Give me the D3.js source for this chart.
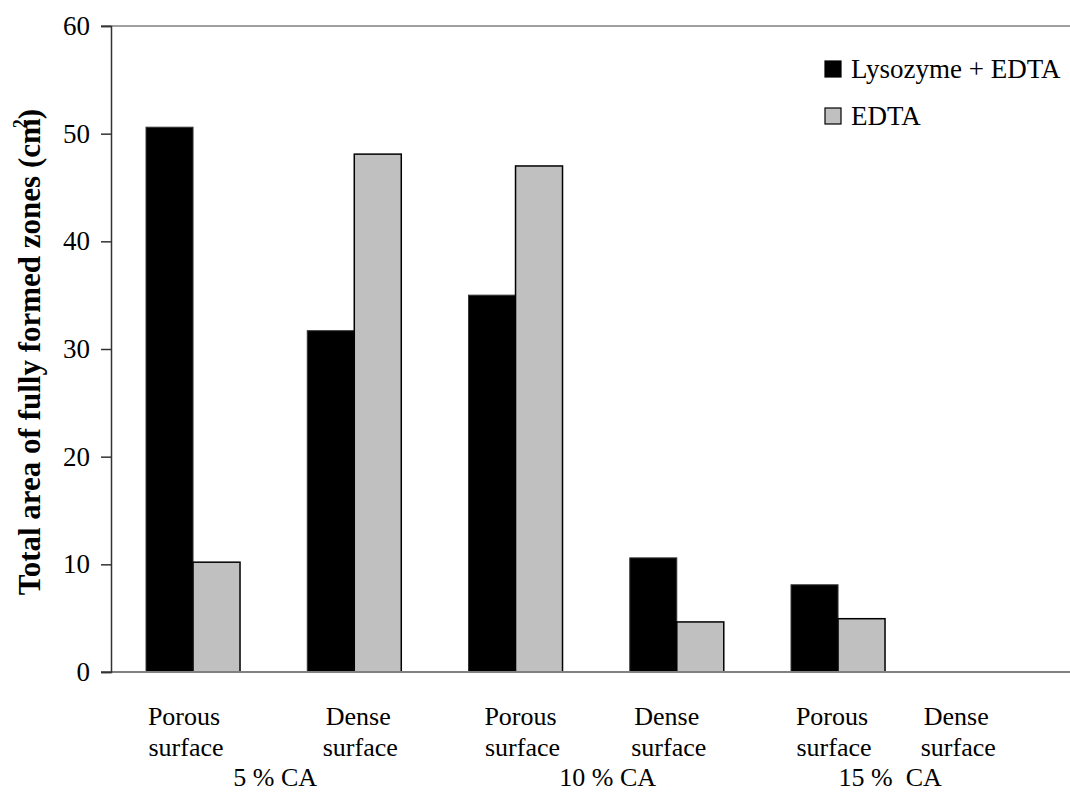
<!DOCTYPE html>
<html>
<head>
<meta charset="utf-8">
<script src="https://cdn.jsdelivr.net/npm/d3@7"></script>
<style>
  html, body { margin: 0; padding: 0; background: #fff; }
  svg { display: block; }
</style>
</head>
<body>
<svg id="chart" width="1070" height="792"></svg>
<script>
// ---- data ----
const categories = ["5P", "5D", "10P", "10D", "15P", "15D"];
const categoryLine1 = ["Porous", "Dense", "Porous", "Dense", "Porous", "Dense"];
const categoryLine2 = ["surface", "surface", "surface", "surface", "surface", "surface"];
const groupLabels = ["5 % CA", "10 % CA", "15 %  CA"];
const seriesNames = ["Lysozyme + EDTA", "EDTA"];
const lysozymeEdta = [50.6, 31.7, 35.0, 10.6, 8.1, 0];
const edta = [10.2, 48.1, 47.0, 4.65, 4.95, 0];
const yTicks = [0, 10, 20, 30, 40, 50, 60];

// ---- layout ----
const W = 1070, H = 792;
const FONT = "'Liberation Serif', 'Times New Roman', Times, serif";
const plotLeft = 111, plotTop = 26, plotBottom = 672;
const colors = ["#000000", "#c0c0c0"];
const labelShift = [-9, 4, 5, -10, -6, -43];
const groupShift = [1.5, 11.5, -28.5];

const svg = d3.select("#chart");

function txt(sel, size) {
  return sel.style("font-family", FONT).style("font-size", size + "px").attr("fill", "#000")
    .style("white-space", "pre");
}

const x0 = d3.scaleBand().domain(categories).range([112.4, 112.4 + 6 * 161.25]).padding(0);
const x1 = d3.scaleBand().domain(seriesNames).range([-47, 47]).padding(0);
const y = d3.scaleLinear().domain([0, 60]).range([plotBottom, plotTop]);

const center = c => x0(c) + x0.bandwidth() / 2;

// top border line
svg.append("line")
  .attr("x1", 101).attr("x2", W).attr("y1", y(60)).attr("y2", y(60))
  .attr("stroke", "#808080").attr("stroke-width", 1.5);

// bars
const rows = categories.map((c, i) => ({ c, vals: [lysozymeEdta[i], edta[i]] }));
const g = svg.append("g");
rows.forEach(r => {
  r.vals.forEach((v, j) => {
    if (v <= 0) return;
    g.append("rect")
      .attr("x", center(r.c) + x1(seriesNames[j]))
      .attr("y", y(v))
      .attr("width", x1.bandwidth())
      .attr("height", y(0) - y(v))
      .attr("fill", colors[j])
      .attr("stroke", j === 0 ? "#333" : "#000")
      .attr("stroke-width", j === 0 ? 1 : 1.5);
  });
});

// x axis line
svg.append("line")
  .attr("x1", 101).attr("x2", W).attr("y1", y(0)).attr("y2", y(0))
  .attr("stroke", "#808080").attr("stroke-width", 2);

// y axis
const yAxis = d3.axisLeft(y).tickValues(yTicks).tickSize(10).tickPadding(11).tickFormat(d3.format("d"));
const ya = svg.append("g").attr("transform", `translate(${plotLeft},0)`).call(yAxis);
ya.attr("font-family", null).attr("font-size", null);
ya.select(".domain").attr("stroke", "#333").attr("stroke-width", 1.5);
ya.selectAll(".tick line").attr("stroke", "#333").attr("stroke-width", 1.5);
txt(ya.selectAll(".tick text"), 27);

// y title
const yt = txt(svg.append("text"), 31)
  .attr("transform", `translate(40,${(plotTop + plotBottom) / 2 + 3}) rotate(-90)`)
  .attr("text-anchor", "middle")
  .style("font-weight", "bold");
yt.append("tspan").text("Total area of fully formed zones (cm");
yt.append("tspan").style("font-size", "18px").attr("dy", -14).attr("dx", -10).text("2");
yt.append("tspan").attr("dy", 14).text(")");

// x category labels
categories.forEach((c, i) => {
  const cx = center(c) + labelShift[i];
  txt(svg.append("text"), 26).attr("x", cx).attr("y", 725).attr("text-anchor", "middle").text(categoryLine1[i]);
  txt(svg.append("text"), 26).attr("x", cx + 2).attr("y", 756).attr("text-anchor", "middle").text(categoryLine2[i]);
});

// group labels
groupLabels.forEach((t, k) => {
  const cx = (center(categories[2 * k]) + center(categories[2 * k + 1])) / 2 + groupShift[k];
  txt(svg.append("text"), 26).attr("x", cx).attr("y", 786).attr("text-anchor", "middle").text(t);
});

// legend
const leg = svg.append("g").attr("transform", "translate(825,61)");
seriesNames.forEach((s, j) => {
  const gy = j * 47;
  leg.append("rect").attr("x", 0).attr("y", gy).attr("width", 16).attr("height", 16)
    .attr("fill", colors[j]).attr("stroke", "#000").attr("stroke-width", 1.2);
  txt(leg.append("text"), 27).attr("x", 26).attr("y", gy + 17).text(s);
});
</script>
</body>
</html>
